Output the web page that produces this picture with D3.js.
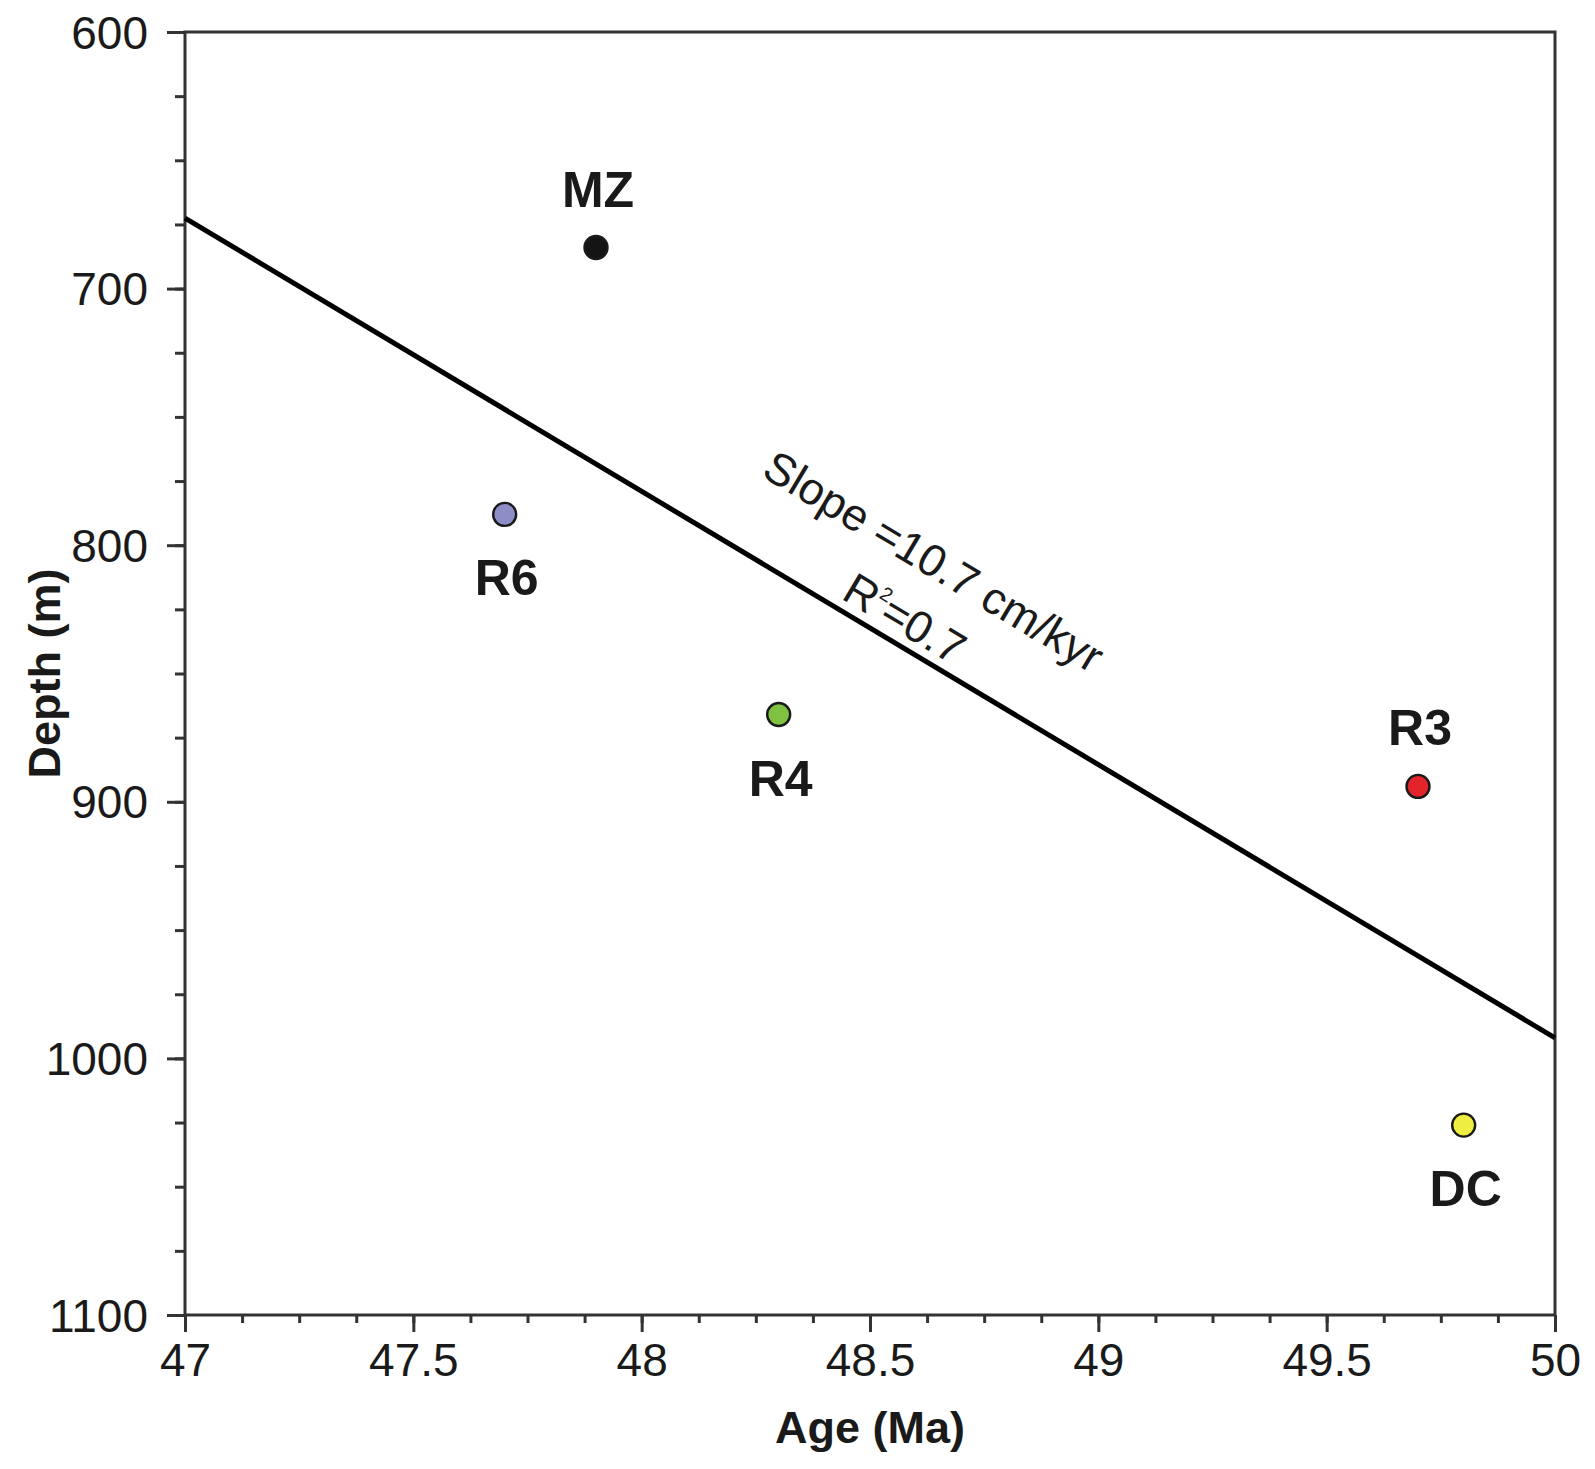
<!DOCTYPE html>
<html>
<head>
<meta charset="utf-8">
<script src="https://cdn.jsdelivr.net/npm/d3@7"></script>
<style>
  html, body { margin: 0; padding: 0; background: #fff; }
  svg text { font-family: "Liberation Sans", Arial, sans-serif; fill: #1a1a1a; }
</style>
</head>
<body>
<svg id="chart" width="1595" height="1469"></svg>
<script>
// ---- data ----
const sites = ["MZ", "R6", "R4", "R3", "DC"];
const ages = [47.9, 47.7, 48.3, 49.7, 49.8];
const depths = [684, 788, 866, 894, 1026];
const siteColors = ["#141414", "#8e8ec6", "#7fc241", "#e3242b", "#eeee42"];
const labelSide = ["above", "below", "below", "above", "below"];

const fitAges = [47, 50];
const fitDepths = [672.5, 992];

const xMajorTicks = [47, 47.5, 48, 48.5, 49, 49.5, 50];
const xTickLabels = ["47", "47.5", "48", "48.5", "49", "49.5", "50"];
const xMinorTicks = d3.range(0, 25).map(i => 47 + i * 0.125);
const yMajorTicks = [600, 700, 800, 900, 1000, 1100];
const yTickLabels = ["600", "700", "800", "900", "1000", "1100"];
const yMinorTicks = d3.range(0, 21).map(i => 600 + i * 25);

const slopeText = "Slope =10.7 cm/kyr";
const slopeAnchor = [48.622, 811.5];
const r2Anchor = [48.559, 833.8];

// ---- layout ----
const svg = d3.select("#chart");
const pLeft = 185, pRight = 1555, pTop = 32, pBottom = 1315;
const x = d3.scaleLinear().domain([47, 50]).range([pLeft, pRight]);
const y = d3.scaleLinear().domain([600, 1100]).range([pTop, pBottom]);
const axisColor = "#333";

// minor ticks
const gxm = svg.append("g").attr("transform", `translate(0,${pBottom})`)
  .call(d3.axisBottom(x).tickValues(xMinorTicks).tickSize(8).tickSizeOuter(0).tickFormat(""));
const gym = svg.append("g").attr("transform", `translate(${pLeft},0)`)
  .call(d3.axisLeft(y).tickValues(yMinorTicks).tickSize(10).tickSizeOuter(0).tickFormat(""));
// major ticks
const gx = svg.append("g").attr("transform", `translate(0,${pBottom})`)
  .call(d3.axisBottom(x).tickValues(xMajorTicks).tickSize(17).tickSizeOuter(0)
    .tickPadding(11).tickFormat((d, i) => xTickLabels[i]));
const gy = svg.append("g").attr("transform", `translate(${pLeft},0)`)
  .call(d3.axisLeft(y).tickValues(yMajorTicks).tickSize(18).tickSizeOuter(0)
    .tickPadding(19).tickFormat((d, i) => yTickLabels[i]));

[gxm, gym, gx, gy].forEach(g => {
  g.select(".domain").remove();
  g.selectAll(".tick line").attr("stroke", axisColor).attr("stroke-width", 3);
});
[gx, gy].forEach(g => {
  g.selectAll(".tick text")
    .attr("font-size", 46)
    .attr("font-family", "Liberation Sans, Arial, sans-serif")
    .attr("fill", "#1a1a1a");
});
gy.selectAll(".tick text").attr("dy", "0.35em");
gx.selectAll(".tick text").attr("dy", "0.72em");

// frame
svg.append("rect")
  .attr("x", pLeft).attr("y", pTop)
  .attr("width", pRight - pLeft).attr("height", pBottom - pTop)
  .attr("fill", "none").attr("stroke", axisColor).attr("stroke-width", 3);

// regression line
const line = d3.line().x(d => x(d[0])).y(d => y(d[1]));
svg.append("path")
  .datum(fitAges.map((a, i) => [a, fitDepths[i]]))
  .attr("d", line)
  .attr("fill", "none").attr("stroke", "#000").attr("stroke-width", 5);

const angle = Math.atan2(y(fitDepths[1]) - y(fitDepths[0]), x(fitAges[1]) - x(fitAges[0])) * 180 / Math.PI;

svg.append("text")
  .attr("transform", `translate(${x(slopeAnchor[0])},${y(slopeAnchor[1])}) rotate(${angle})`)
  .attr("text-anchor", "middle").attr("font-size", 45)
  .text(slopeText);

const r2 = svg.append("text")
  .attr("transform", `translate(${x(r2Anchor[0])},${y(r2Anchor[1])}) rotate(${angle})`)
  .attr("text-anchor", "middle").attr("font-size", 45);
r2.append("tspan").text("R");
r2.append("tspan").attr("font-size", 20).attr("dy", -20).text("2");
r2.append("tspan").attr("dy", 20).text("=0.7");

// points
svg.append("g").selectAll("circle")
  .data(sites)
  .join("circle")
  .attr("cx", (d, i) => x(ages[i]))
  .attr("cy", (d, i) => y(depths[i]))
  .attr("r", 11.5)
  .attr("fill", (d, i) => siteColors[i])
  .attr("stroke", "#1a1a1a").attr("stroke-width", 2.4);

svg.append("g").selectAll("text")
  .data(sites)
  .join("text")
  .attr("x", (d, i) => x(ages[i]) + 2)
  .attr("y", (d, i) => y(depths[i]) + (labelSide[i] === "above" ? -41 : 81))
  .attr("text-anchor", "middle")
  .attr("font-size", 50).attr("font-weight", "bold")
  .text(d => d);

// axis titles
svg.append("text")
  .attr("x", (pLeft + pRight) / 2).attr("y", 1443)
  .attr("text-anchor", "middle").attr("font-size", 45).attr("font-weight", "bold")
  .text("Age (Ma)");

svg.append("text")
  .attr("transform", `translate(60,${(pTop + pBottom) / 2}) rotate(-90)`)
  .attr("text-anchor", "middle").attr("font-size", 45).attr("font-weight", "bold")
  .text("Depth (m)");
</script>
</body>
</html>
